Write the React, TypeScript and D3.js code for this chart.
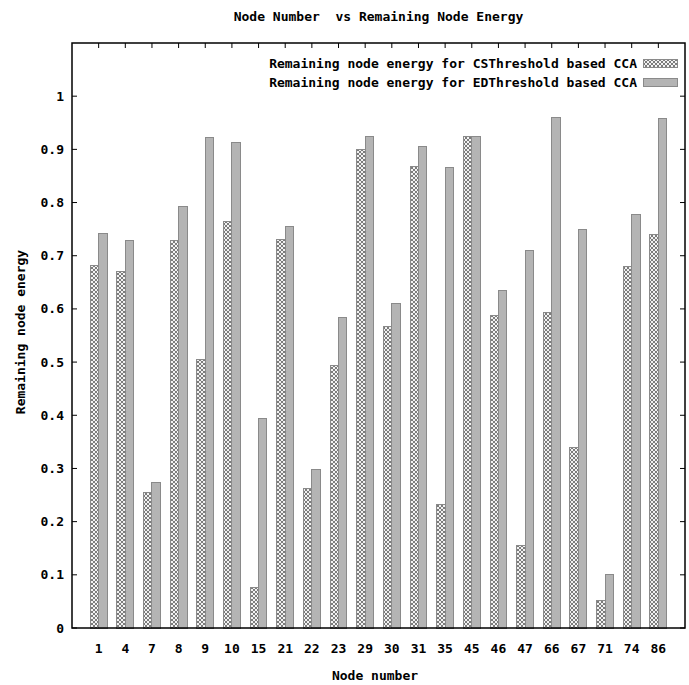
import React from "react";
import * as d3 from "d3";

const nodes = ["1","4","7","8","9","10","15","21","22","23","29","30","31","35","45","46","47","66","67","71","74","86"];
const csValues = [0.681,0.671,0.255,0.729,0.505,0.765,0.077,0.730,0.262,0.493,0.900,0.567,0.868,0.232,0.925,0.588,0.155,0.594,0.340,0.051,0.680,0.740];
const edValues = [0.742,0.728,0.273,0.792,0.923,0.912,0.393,0.755,0.298,0.583,0.925,0.610,0.906,0.865,0.925,0.635,0.710,0.960,0.750,0.101,0.777,0.958];
const yTicks = [0,0.1,0.2,0.3,0.4,0.5,0.6,0.7,0.8,0.9,1];
const yTickLabels = ["0","0.1","0.2","0.3","0.4","0.5","0.6","0.7","0.8","0.9","1"];
const seriesNames = ["Remaining node energy for CSThreshold based CCA","Remaining node energy for EDThreshold based CCA"];

const W = 689, H = 685;
const L = 72, R = 685, T = 43, B = 628;
const FONT = "'DejaVu Sans Mono', monospace";

export default function App() {
  const x = d3.scaleLinear().domain([-1, nodes.length]).range([L, R]);
  const y = d3.scaleLinear().domain([0, 1.1]).range([B, T]);
  const bw = 0.315;
  const tick = 5;
  return (
    <svg width={W} height={H} style={{ position: "absolute", left: 0, top: 0, background: "#fff" }} fontFamily={FONT}>
      <defs>
        <pattern id="xh" width={4} height={4} patternUnits="userSpaceOnUse">
          <rect width={4} height={4} fill="#f2f2f2" />
          {[0,1,2,3].map(i => (
            <g key={i}>
              <rect x={i} y={i} width={1} height={1} fill="#7c7c7c" />
              <rect x={3 - i} y={i} width={1} height={1} fill="#7c7c7c" />
            </g>
          ))}
        </pattern>
      </defs>
      <text x={(L + R) / 2} y={21} textAnchor="middle" fontSize={13} fontWeight="bold" style={{ whiteSpace: "pre" }}>Node Number  vs Remaining Node Energy</text>
      {/* ticks */}
      {yTicks.map((t, i) => (
        <g key={"y" + i}>
          <line x1={L} x2={L + tick} y1={y(t)} y2={y(t)} stroke="#000" />
          <line x1={R} x2={R - tick} y1={y(t)} y2={y(t)} stroke="#000" />
          <text x={L - 8} y={y(t)} dy="0.35em" textAnchor="end" fontSize={13} fontWeight="bold">{yTickLabels[i]}</text>
        </g>
      ))}
      {nodes.map((n, i) => (
        <g key={"x" + i}>
          <line x1={x(i)} x2={x(i)} y1={T} y2={T + tick} stroke="#000" />
          <line x1={x(i)} x2={x(i)} y1={B} y2={B - tick} stroke="#000" />
          <text x={x(i)} y={648} dy="0.35em" textAnchor="middle" fontSize={13} fontWeight="bold">{n}</text>
        </g>
      ))}
      {/* bars */}
      {nodes.map((n, i) => (
        <g key={"b" + i} shapeRendering="crispEdges">
          <rect x={x(i - bw)} y={y(csValues[i])} width={x(i) - x(i - bw)} height={B - y(csValues[i])} fill="url(#xh)" stroke="#8a8a8a" />
          <rect x={x(i)} y={y(edValues[i])} width={x(i + bw) - x(i)} height={B - y(edValues[i])} fill="#b4b4b4" stroke="#8a8a8a" />
        </g>
      ))}
      <rect x={L} y={T} width={R - L} height={B - T} fill="none" stroke="#000" strokeWidth={1.5} />
      {/* legend */}
      {seriesNames.map((s, i) => {
        const cy = 63 + i * 19;
        return (
          <g key={"l" + i}>
            <text x={637} y={cy} dy="0.35em" textAnchor="end" fontSize={13} fontWeight="bold">{s}</text>
            <rect x={643} y={cy - 4} width={34} height={8} fill={i === 0 ? "url(#xh)" : "#b4b4b4"} stroke="#8a8a8a" shapeRendering="crispEdges" />
          </g>
        );
      })}
      <text x={375} y={675} dy="0.35em" textAnchor="middle" fontSize={13} fontWeight="bold">Node number</text>
      <text transform={`translate(20,${332}) rotate(-90)`} dy="0.35em" textAnchor="middle" fontSize={13} fontWeight="bold">Remaining node energy</text>
    </svg>
  );
}
